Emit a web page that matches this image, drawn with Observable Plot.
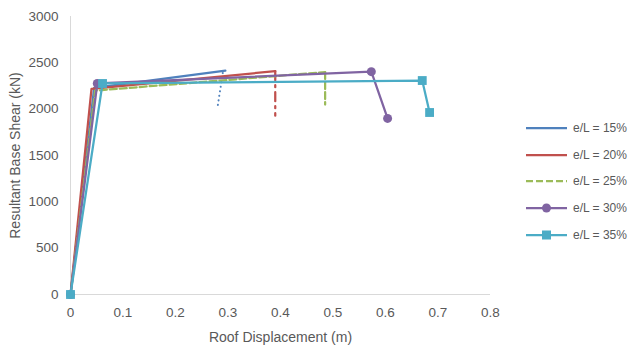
<!DOCTYPE html>
<html><head><meta charset="utf-8">
<script src="https://cdn.jsdelivr.net/npm/d3@7"></script>
<script src="https://cdn.jsdelivr.net/npm/@observablehq/plot@0.6"></script>
<style>
body{margin:0;background:#fff;font-family:"Liberation Sans",Arial,sans-serif;}
#wrap{position:relative;width:629px;height:347px;}
#legend{position:absolute;left:526px;top:0;font-size:12px;color:#595959;}
.row{position:absolute;left:0;white-space:nowrap;display:flex;align-items:center;height:20px;}
.row span{margin-left:5px;}
</style>
</head><body>
<div id="wrap"><div id="legend"></div></div>
<script>
// ---- data ----
const seriesNames = ["e/L = 15%", "e/L = 20%", "e/L = 25%", "e/L = 30%", "e/L = 35%"];
const colors = ["#4F81BD", "#C0504D", "#9BBB59", "#8064A2", "#4BACC6"];

const disp15 = [0, 0.045, 0.295];
const shear15 = [0, 2230, 2415];
const drop15Disp = [0.29, 0.28];
const drop15Shear = [2390, 2020];

const disp20 = [0, 0.04, 0.39];
const shear20 = [0, 2220, 2410];
const drop20Disp = [0.39, 0.39];
const drop20Shear = [2410, 1930];

const disp25 = [0, 0.047, 0.485];
const shear25 = [0, 2200, 2400];
const drop25Disp = [0.485, 0.485];
const drop25Shear = [2400, 2050];

const disp30 = [0, 0.051, 0.573, 0.604];
const shear30 = [0, 2277, 2405, 1900];

const disp35 = [0, 0.061, 0.670, 0.684];
const shear35 = [0, 2277, 2309, 1964];

const xTicks = [0, 0.1, 0.2, 0.3, 0.4, 0.5, 0.6, 0.7, 0.8];
const yTicks = [0, 500, 1000, 1500, 2000, 2500, 3000];

const toPts = (xs, ys) => xs.map((x, i) => ({x, y: ys[i]}));
const s15 = toPts(disp15, shear15), d15 = toPts(drop15Disp, drop15Shear);
const s20 = toPts(disp20, shear20), d20 = toPts(drop20Disp, drop20Shear);
const s25 = toPts(disp25, shear25), d25 = toPts(drop25Disp, drop25Shear);
const s30 = toPts(disp30, shear30);
const s35 = toPts(disp35, shear35);

const sw = 2.25;
const chart = Plot.plot({
  width: 629, height: 347,
  marginLeft: 70, marginRight: 139, marginTop: 16, marginBottom: 53,
  style: {fontFamily: "Liberation Sans, Arial, sans-serif", fontSize: "13.5px", color: "#595959", background: "transparent"},
  x: {domain: [0, 0.8]},
  y: {domain: [0, 3000]},
  marks: [
    Plot.ruleY([0], {stroke: "#D9D9D9", strokeWidth: 1}),
    Plot.ruleX([0], {stroke: "#D9D9D9", strokeWidth: 1}),
    Plot.axisX({ticks: xTicks, tickSize: 0, tickPadding: 13, tickFormat: d => String(+d.toFixed(1)), label: null, fill: "#595959"}),
    Plot.axisX({ticks: [], label: "Roof Displacement (m)", labelAnchor: "center", labelArrow: "none", labelOffset: 47, fill: "#595959", fontSize: 14}),
    Plot.axisY({ticks: yTicks, tickSize: 0, tickPadding: 12, tickFormat: d => String(d), label: null, fill: "#595959"}),
    Plot.axisY({ticks: [], label: "Resultant Base Shear (kN)", labelAnchor: "center", labelArrow: "none", labelOffset: 60, fill: "#595959", fontSize: 14}),
    Plot.line(s15, {x: "x", y: "y", stroke: colors[0], strokeWidth: sw}),
    Plot.line(d15, {x: "x", y: "y", stroke: colors[0], strokeWidth: 2, strokeDasharray: "0.1 4.5", strokeLinecap: "round"}),
    Plot.line(s20, {x: "x", y: "y", stroke: colors[1], strokeWidth: sw}),
    Plot.line(d20, {x: "x", y: "y", stroke: colors[1], strokeWidth: sw, strokeDasharray: "9 5 2 5"}),
    Plot.line(s25, {x: "x", y: "y", stroke: colors[2], strokeWidth: sw, strokeDasharray: "7 3"}),
    Plot.line(d25, {x: "x", y: "y", stroke: colors[2], strokeWidth: sw, strokeDasharray: "7 3"}),
    Plot.line(s30, {x: "x", y: "y", stroke: colors[3], strokeWidth: sw}),
    Plot.dot(s30, {x: "x", y: "y", fill: colors[3], r: 4.5}),
    Plot.line(s35, {x: "x", y: "y", stroke: colors[4], strokeWidth: sw}),
    Plot.dot(s35, {x: "x", y: "y", fill: colors[4], symbol: "square", r: 5})
  ]
});
document.getElementById("wrap").prepend(chart);

// ---- legend ----
const legendY = [128, 155, 181, 208, 235];
const styles = [
  {dash: null, marker: null},
  {dash: null, marker: null},
  {dash: "7 3", marker: null},
  {dash: null, marker: "circle"},
  {dash: null, marker: "square"}
];
const legend = d3.select("#legend");
seriesNames.forEach((name, i) => {
  const row = legend.append("div").attr("class", "row").style("top", (legendY[i] - 10) + "px");
  const svg = row.append("svg").attr("width", 42).attr("height", 20);
  const ln = svg.append("line").attr("x1", 0).attr("x2", 41).attr("y1", 10).attr("y2", 10)
    .attr("stroke", colors[i]).attr("stroke-width", sw);
  if (styles[i].dash) ln.attr("stroke-dasharray", styles[i].dash);
  if (styles[i].marker === "circle") svg.append("circle").attr("cx", 20.5).attr("cy", 10).attr("r", 4.5).attr("fill", colors[i]);
  if (styles[i].marker === "square") svg.append("rect").attr("x", 16).attr("y", 5.5).attr("width", 9).attr("height", 9).attr("fill", colors[i]);
  row.append("span").text(name);
});
</script>
</body></html>
